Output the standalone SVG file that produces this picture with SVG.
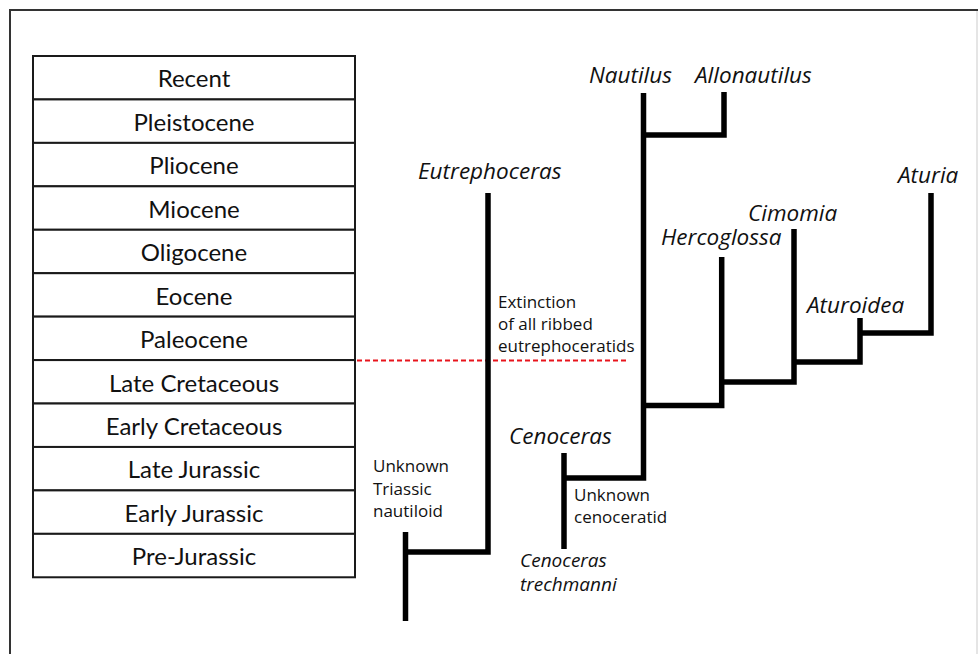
<svg xmlns="http://www.w3.org/2000/svg" width="978" height="654" viewBox="0 0 978 654">
<style>
.cell{fill:#fff;stroke:#1a1a1a;stroke-width:2}
.era{font-family:Lato,"Open Sans",sans-serif;font-size:24px;fill:#111;text-anchor:middle}
.tax{font-family:"Open Sans","Noto Sans",sans-serif;font-style:italic;font-size:22.5px;fill:#111}
.note{font-family:"Open Sans","Noto Sans",sans-serif;font-size:17px;fill:#111}
.br{fill:none;stroke:#000;stroke-width:5.5;stroke-linecap:butt;stroke-linejoin:miter}
</style>
<rect x="0" y="0" width="978" height="654" fill="#fff"/>
<g id="frame">
<line x1="10" y1="10" x2="978" y2="10" stroke="#333" stroke-width="2"/>
<line x1="10" y1="9" x2="10" y2="654" stroke="#333" stroke-width="2"/>
<line x1="977" y1="11" x2="977" y2="654" stroke="#ddd" stroke-width="1.5"/>
</g>
<g id="timescale">
<g id="row-recent"><rect class="cell" x="33" y="56" width="322" height="43.44"/><text class="era" x="194" y="87.4">Recent</text></g>
<g id="row-pleistocene"><rect class="cell" x="33" y="99.44" width="322" height="43.44"/><text class="era" x="194" y="130.8">Pleistocene</text></g>
<g id="row-pliocene"><rect class="cell" x="33" y="142.88" width="322" height="43.44"/><text class="era" x="194" y="174.3">Pliocene</text></g>
<g id="row-miocene"><rect class="cell" x="33" y="186.32" width="322" height="43.44"/><text class="era" x="194" y="217.7">Miocene</text></g>
<g id="row-oligocene"><rect class="cell" x="33" y="229.76" width="322" height="43.44"/><text class="era" x="194" y="261.2">Oligocene</text></g>
<g id="row-eocene"><rect class="cell" x="33" y="273.2" width="322" height="43.44"/><text class="era" x="194" y="304.6">Eocene</text></g>
<g id="row-paleocene"><rect class="cell" x="33" y="316.64" width="322" height="43.44"/><text class="era" x="194" y="348.1">Paleocene</text></g>
<g id="row-latecret"><rect class="cell" x="33" y="360.08" width="322" height="43.44"/><text class="era" x="194" y="391.5">Late Cretaceous</text></g>
<g id="row-earlycret"><rect class="cell" x="33" y="403.52" width="322" height="43.44"/><text class="era" x="194" y="434.9">Early Cretaceous</text></g>
<g id="row-latejur"><rect class="cell" x="33" y="446.96" width="322" height="43.44"/><text class="era" x="194" y="478.4">Late Jurassic</text></g>
<g id="row-earlyjur"><rect class="cell" x="33" y="490.4" width="322" height="43.44"/><text class="era" x="194" y="521.8">Early Jurassic</text></g>
<g id="row-prejur"><rect class="cell" x="33" y="533.84" width="322" height="43.44"/><text class="era" x="194" y="565.3">Pre-Jurassic</text></g>
</g>
<g id="connectors">
<line x1="357" y1="360.5" x2="628" y2="360.5" stroke="#e8141c" stroke-width="2" stroke-dasharray="5 3"/>
<polyline class="br" points="405.5,532 405.5,621"/>
<polyline class="br" points="405.5,552 488,552 488,193"/>
<polyline class="br" points="564,453 564,549"/>
<polyline class="br" points="564,478 643.5,478 643.5,93"/>
<polyline class="br" points="643.5,135 724,135 724,92"/>
<polyline class="br" points="643.5,405.5 721.7,405.5 721.7,257"/>
<polyline class="br" points="721.7,382 794,382 794,229"/>
<polyline class="br" points="794,362 860,362 860,318"/>
<polyline class="br" points="860,333 931,333 931,193"/>
</g>
<g id="n-eutrephoceras"><text class="tax" x="418" y="179">Eutrephoceras</text></g>
<g id="n-nautilus"><text class="tax" x="589" y="83">Nautilus</text></g>
<g id="n-allonautilus"><text class="tax" x="695" y="83">Allonautilus</text></g>
<g id="n-aturia"><text class="tax" x="898" y="183">Aturia</text></g>
<g id="n-cimomia"><text class="tax" x="748" y="221">Cimomia</text></g>
<g id="n-hercoglossa"><text class="tax" x="661" y="245">Hercoglossa</text></g>
<g id="n-aturoidea"><text class="tax" x="807" y="313">Aturoidea</text></g>
<g id="n-cenoceras"><text class="tax" x="509" y="444">Cenoceras</text></g>
<g id="n-trechmanni"><text class="tax" x="520" y="567" style="font-size:19px">Cenoceras</text><text class="tax" x="520" y="591" style="font-size:19px">trechmanni</text></g>
<g id="n-triassic"><text class="note" x="373" y="472">Unknown</text><text class="note" x="373" y="495">Triassic</text><text class="note" x="373" y="517">nautiloid</text></g>
<g id="n-cenoceratid"><text class="note" x="574" y="501">Unknown</text><text class="note" x="574" y="523">cenoceratid</text></g>
<g id="n-extinction"><text class="note" x="498" y="308">Extinction</text><text class="note" x="498" y="330">of all ribbed</text><text class="note" x="498" y="352">eutrephoceratids</text></g>
</svg>
